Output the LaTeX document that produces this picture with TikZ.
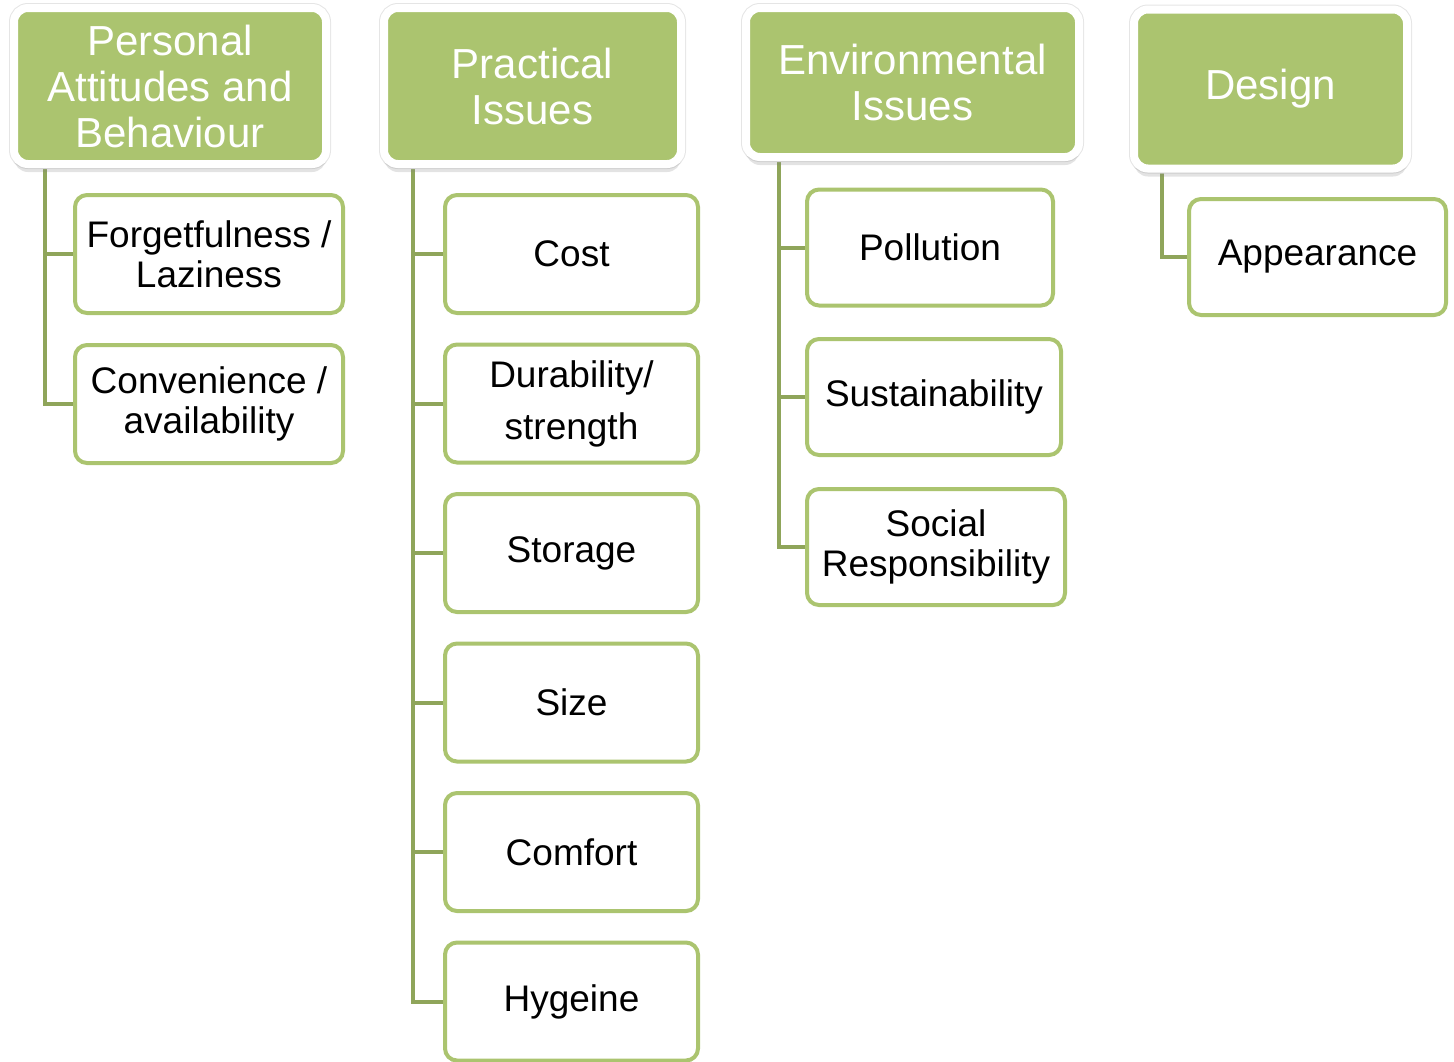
\documentclass[tikz,border=0pt]{standalone}
\usepackage{fontspec}
\setmainfont{Liberation Sans}
\usepackage{xcolor}
\definecolor{verdecl}{RGB}{171, 196, 111}
\definecolor{verdeos}{RGB}{143, 165, 90}
\usetikzlibrary{shadows, positioning, backgrounds}
\tikzset{
    cabeza/.style={rectangle, rounded corners=7pt, fill=verdecl, draw=white, line width=4pt,
        text=white, align=center, inner sep=2pt, font=\fontsize{21}{23}\selectfont,
        preaction={draw=black!10, line width=5pt},
        drop shadow={shadow xshift=0pt, shadow yshift=-4pt, opacity=0.22}},
    item/.style={rectangle, rounded corners=6pt, fill=white, draw=verdecl, line width=2pt,
        text=black, align=center, inner sep=2pt, minimum height=59pt,
        font=\fontsize{18.5}{20}\selectfont},
    enlace/.style={draw=verdeos, line width=2pt}
}

\begin{document}
\begin{tikzpicture}[x=0.5pt, y=-0.5pt]
    \useasboundingbox (0,0) rectangle (1454,1061);
    % Cabeceras de las cuatro columnas
    \node[cabeza, minimum width=156pt, minimum height=78pt] (personal) at (170,86) {Personal\\Attitudes and\\Behaviour};
    \node[cabeza, minimum width=148.5pt, minimum height=78pt] (practical) at (532.5,86) {Practical\\Issues};
    \node[cabeza, minimum width=166.5pt, minimum height=74.5pt] (environ) at (912.5,82.5) {Environmental\\Issues};
    \node[cabeza, minimum width=136.5pt, minimum height=79.5pt] (design) at (1270.5,89) {Design};

    % Primera columna
    \node[item, minimum width=134pt] (forget) at (209,254) {Forgetfulness /\\Laziness};
    \node[item, minimum width=134pt] (conven) at (209,404) {Convenience /\\availability};

    % Segunda columna, una caja cada 150px
    \foreach \txt [count=\i from 0] in {Cost, {Durability/\\[6pt]strength}, Storage, Size, Comfort, Hygeine} {
        \node[item, minimum width=126.5pt] (prac\i) at (571.5, 254+\i*149.5) {\txt};
    }

    % Tercera columna
    \node[item, minimum width=123pt, minimum height=58pt] (pollution) at (930,247.5) {Pollution};
    \node[item, minimum width=127pt, minimum height=58pt] (sustain) at (934,397) {Sustainability};
    \node[item, minimum width=129pt, minimum height=58pt] (social) at (936,547) {Social\\Responsibility};

    % Cuarta columna
    \node[item, minimum width=128.5pt, minimum height=58pt] (appear) at (1317.5,257) {Appearance};

    % Lineas de conexion por debajo de las cajas
    \begin{scope}[on background layer]
        \coordinate (t1) at (45,0);
        \coordinate (t2) at (413,0);
        \coordinate (t3) at (779,0);
        \coordinate (t4) at (1162,0);
        \draw[enlace] (personal.south -| t1) |- (forget.west);
        \draw[enlace] (personal.south -| t1) |- (conven.west);
        \foreach \i in {0,...,5} {
            \draw[enlace] (practical.south -| t2) |- (prac\i.west);
        }
        \foreach \n in {pollution, sustain, social} {
            \draw[enlace] (environ.south -| t3) |- (\n.west);
        }
        \draw[enlace] (design.south -| t4) |- (appear.west);
    \end{scope}
\end{tikzpicture}
\end{document}
